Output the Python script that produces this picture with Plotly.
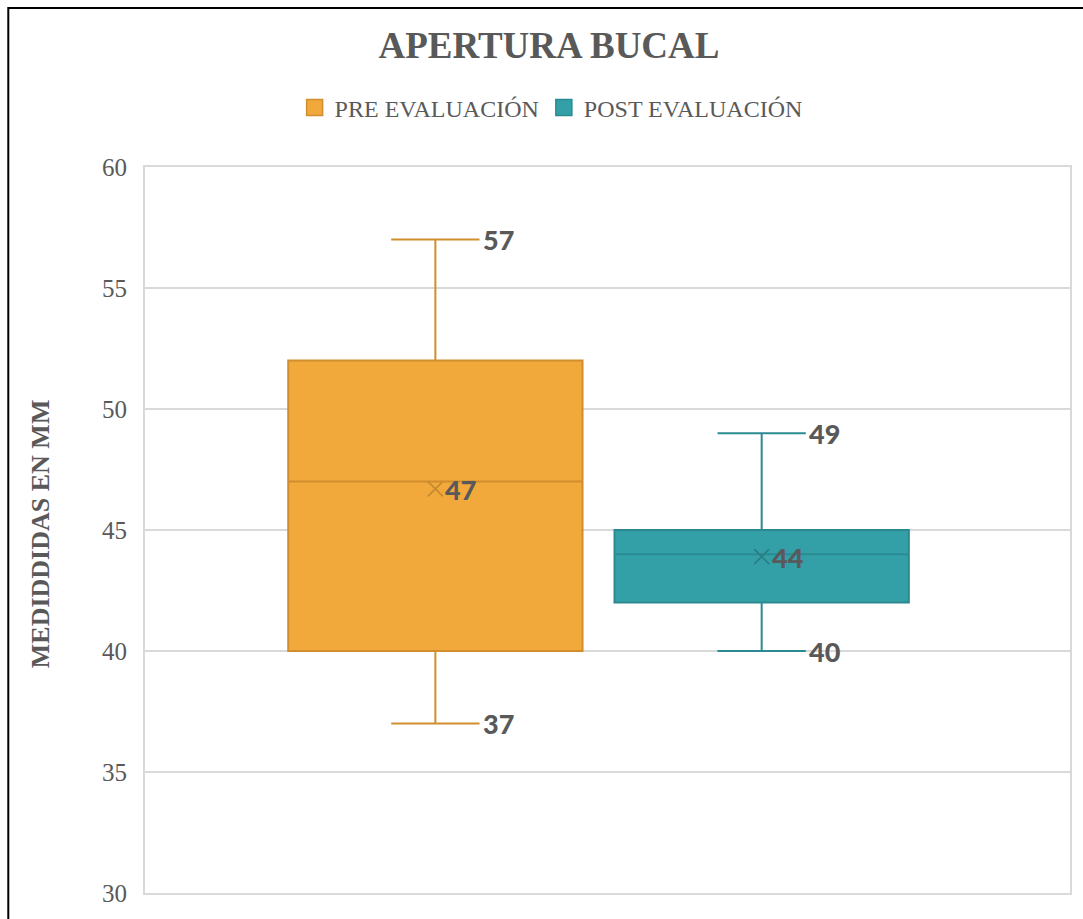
import plotly.graph_objects as go

# ---- data ----
series = ["PRE EVALUACIÓN", "POST EVALUACIÓN"]
positions = [0, 1]
q1 = [40, 42]
median = [47, 44]
q3 = [52, 45]
lower = [37, 40]
upper = [57, 49]
mean = [46.7, 43.9]
yticks = [30, 35, 40, 45, 50, 55, 60]

fills = ["#F2A93B", "#33A0A8"]
lines = ["#D08E2E", "#2B8A91"]
mean_cols = ["#C48A2E", "#2A7C83"]

BOX_W = 0.902
WHISK = 0.3
cap_half = BOX_W * WHISK / 2

TXT = "#595959"
SERIF = "Liberation Serif, Times New Roman, serif"
SANS = "Lato, Open Sans, sans-serif"
LBL_FONT = dict(family=SANS, size=27, color=TXT, weight=900)

fig = go.Figure()
annotations = []

for i, name in enumerate(series):
    fig.add_trace(go.Box(
        x=[positions[i]], q1=[q1[i]], median=[median[i]], q3=[q3[i]],
        lowerfence=[lower[i]], upperfence=[upper[i]],
        width=BOX_W, whiskerwidth=WHISK,
        fillcolor=fills[i], line=dict(color=lines[i], width=2),
        showlegend=False, hoverinfo="skip", name=name,
    ))
    # mean marker
    fig.add_trace(go.Scatter(
        x=[positions[i]], y=[mean[i]], mode="markers",
        marker=dict(symbol="x-thin", size=15, line=dict(color=mean_cols[i], width=1.6), color=mean_cols[i]),
        showlegend=False, hoverinfo="skip",
    ))
    annotations.append(dict(x=positions[i], y=mean[i], xref="x", yref="y",
                            text=f"{mean[i]:.0f}", showarrow=False,
                            xanchor="left", yanchor="middle", xshift=8, yshift=-1, font=LBL_FONT))
    for v in (lower[i], upper[i]):
        annotations.append(dict(x=positions[i] + cap_half, y=v, xref="x", yref="y",
                                text=f"{v:.0f}", showarrow=False,
                                xanchor="left", yanchor="middle", xshift=1, yshift=0, font=LBL_FONT))
    # legend entry
    fig.add_trace(go.Scatter(
        x=[None], y=[None], mode="markers", name=name,
        marker=dict(symbol="square", size=18, color=fills[i], line=dict(color=lines[i], width=1.5)),
        showlegend=True,
    ))

L, R, T, B = 145, 11, 167, 26
W, H = 1083, 919
pw = W - L - R
ph = H - T - B

annotations.append(dict(text="<b>MEDIDDIDAS EN MM</b>", textangle=-90, xref="paper", yref="paper",
                        x=(40 - L) / pw, y=(H - B - 534) / ph, xanchor="center", yanchor="middle",
                        showarrow=False, font=dict(family=SERIF, size=26, color=TXT)))

fig.update_layout(
    width=W, height=H,
    margin=dict(l=L, r=R, t=T, b=B),
    paper_bgcolor="white", plot_bgcolor="white",
    title=dict(text="<b>APERTURA BUCAL</b>", x=549 / W, xref="container", xanchor="center",
               y=1 - 45 / H, yref="container", yanchor="middle",
               font=dict(family=SERIF, size=37, color=TXT)),
    legend=dict(orientation="h", x=(552 - L) / pw, xanchor="center",
                y=(H - B - 108) / ph, yanchor="middle",
                font=dict(family=SERIF, size=24, color=TXT),
                itemsizing="trace", traceorder="normal"),
    xaxis=dict(range=[-(436 - L) / 327, (W - R - 436) / 327], showticklabels=False,
               showgrid=False, zeroline=False, showline=True, mirror=True,
               linecolor="#D9D9D9", linewidth=2, fixedrange=True),
    yaxis=dict(range=[30, 60], tickvals=yticks, showgrid=True, gridcolor="#D9D9D9", gridwidth=1.5,
               zeroline=False, showline=True, mirror=True, linecolor="#D9D9D9", linewidth=2,
               tickfont=dict(family=SERIF, size=25, color=TXT), ticklabelstandoff=11,
               fixedrange=True),
    annotations=annotations,
    shapes=[dict(type="rect", xref="paper", yref="paper",
                 x0=(8 - L) / pw, x1=(W + 40 - L) / pw,
                 y0=(H - B - (H + 40)) / ph, y1=(H - B - 8) / ph,
                 line=dict(color="black", width=2), fillcolor="rgba(0,0,0,0)", layer="below")],
)

fig.write_html("out.html")
